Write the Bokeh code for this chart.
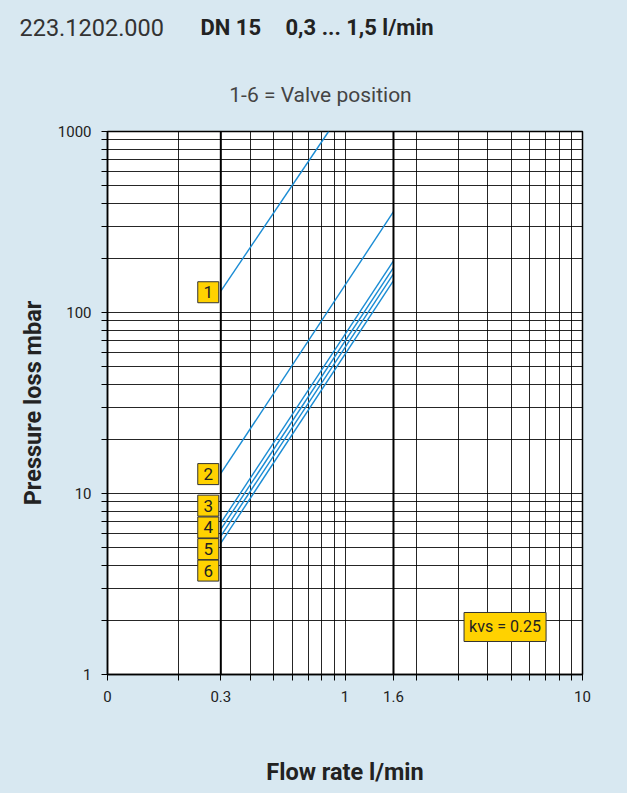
from bokeh.plotting import figure
from bokeh.layouts import column
from bokeh.models import FixedTicker, Span, Label, ColumnDataSource, Range1d
from bokeh.embed import file_html
from bokeh.resources import INLINE
from bokeh.core.properties import value

# ---------------- data ----------------
valve_positions = ["1", "2", "3", "4", "5", "6"]
flow_start = [0.3, 0.3, 0.3, 0.3, 0.3, 0.3]          # l/min
flow_end = [0.853, 1.6, 1.6, 1.6, 1.6, 1.6]          # l/min
loss_start = [131.4, 12.9, 6.88, 6.33, 5.82, 5.32]   # mbar
loss_end = [1000.0, 360.6, 192.7, 177.0, 163.3, 150.2]
badge_loss = [129.4, 12.8, 8.57, 6.49, 4.93, 3.75]   # badge heights (mbar)
badge_flow = 0.2656

x_ticks = [0.1, 0.3, 1, 1.6, 10]
x_tick_labels = ["0", "0.3", "1", "1.6", "10"]
x_minor = [0.2, 0.4, 0.5, 0.6, 0.7, 0.8, 0.9, 2, 3, 4, 5, 6, 7, 8, 9]
y_ticks = [1, 10, 100, 1000]
y_tick_labels = ["1", "10", "100", "1000"]
y_minor = [m * d for d in (1, 10, 100) for m in range(2, 10)]
kvs_text = "kvs = 0.25"
header_id = "223.1202.000"
header_dn = "DN 15"
header_flow = "0,3 ... 1,5 l/min"
subtitle = "1-6 = Valve position"
x_title = "Flow rate l/min"
y_title = "Pressure loss mbar"

# ---------------- style ----------------
BG = "#D8E8F1"
LINE = "#1A8CD4"
YELLOW = "#FFD200"
FONT = "Roboto"

W = 627
HEAD_H = 116
FW, FH = 475, 543
LEFT, TOP, RIGHT, BOTTOM = 107, 15, 45, 119


def no_align(fig):
    if "frame_align" in fig.properties():
        fig.frame_align = False


# ---------------- header strip ----------------
h = figure(width=W, height=HEAD_H, x_range=Range1d(0, W), y_range=Range1d(HEAD_H, 0),
           min_border=0, x_axis_location=None, y_axis_location=None,
           toolbar_location=None, output_backend="svg",
           background_fill_color=BG, border_fill_color=BG, outline_line_color=None)
h.grid.visible = False
no_align(h)
h.text(x=[19], y=[27], text=[header_id], text_align="left", text_baseline="middle",
       text_font=value(FONT), text_font_size="23.5px", text_color="#333333")
h.text(x=[200], y=[27], text=[header_dn], text_align="left", text_baseline="middle",
       text_font=value(FONT), text_font_style="bold", text_font_size="22px", text_color="#222222")
h.text(x=[285], y=[27], text=[header_flow], text_align="left", text_baseline="middle",
       text_font=value(FONT), text_font_style="bold", text_font_size="22px", text_color="#222222")
h.text(x=[320], y=[94], text=[subtitle], text_align="center", text_baseline="middle",
       text_font=value(FONT), text_font_size="21px", text_color="#444444")

# ---------------- main chart ----------------
p = figure(x_axis_type="log", y_axis_type="log",
           x_range=Range1d(0.1, 10), y_range=Range1d(1, 1000),
           frame_width=FW, frame_height=FH,
           min_border_left=LEFT, min_border_right=RIGHT,
           min_border_top=TOP, min_border_bottom=BOTTOM,
           output_backend="svg", toolbar_location=None,
           background_fill_color="white", border_fill_color=BG)
no_align(p)

p.outline_line_color = "black"
p.outline_line_width = 1.5

# grids
p.xgrid.ticker = FixedTicker(ticks=x_minor + [1])
p.ygrid.ticker = FixedTicker(ticks=y_minor + [10, 100])
for g in (p.xgrid, p.ygrid):
    g.grid_line_color = "black"
    g.grid_line_width = 1
    g.grid_line_alpha = 0.85

# axes
p.xaxis.ticker = FixedTicker(ticks=x_ticks, minor_ticks=x_minor)
p.yaxis.ticker = FixedTicker(ticks=y_ticks, minor_ticks=y_minor)
p.xaxis.major_label_overrides = {t: l for t, l in zip(x_ticks, x_tick_labels)}
p.yaxis.major_label_overrides = {t: l for t, l in zip(y_ticks, y_tick_labels)}
for ax in (p.xaxis, p.yaxis):
    ax.axis_line_color = "black"
    ax.axis_line_width = 1.5
    ax.major_tick_line_color = "black"
    ax.minor_tick_line_color = "black"
    ax.major_tick_in = 0
    ax.minor_tick_in = 0
    ax.major_tick_out = 6
    ax.minor_tick_out = 6
    ax.major_label_text_font = FONT
    ax.major_label_text_font_size = "15px"
    ax.major_label_text_color = "#222222"
    ax.axis_label_text_font = FONT
    ax.axis_label_text_font_style = "bold"
    ax.axis_label_text_font_size = "23.5px"
    ax.axis_label_text_color = "#222222"
p.xaxis.major_label_standoff = 10
p.yaxis.major_label_standoff = 10
p.xaxis.axis_label = x_title
p.yaxis.axis_label = y_title
p.xaxis.axis_label_standoff = 53
p.yaxis.axis_label_standoff = 8

# thick reference lines
for loc in (0.3, 1.6):
    p.add_layout(Span(location=loc, dimension="height", line_color="black", line_width=2))

# curves
src = ColumnDataSource(dict(
    xs=[[a, b] for a, b in zip(flow_start, flow_end)],
    ys=[[a, b] for a, b in zip(loss_start, loss_end)],
))
p.multi_line("xs", "ys", source=src, line_color=LINE, line_width=1.4)

# badges
bsrc = ColumnDataSource(dict(x=[badge_flow] * len(valve_positions), y=badge_loss, t=valve_positions))
p.rect("x", "y", width=21, height=21, width_units="screen", height_units="screen",
       source=bsrc, fill_color=YELLOW, line_color="#333333", line_width=1)
p.text("x", "y", text="t", source=bsrc, text_align="center", text_baseline="middle",
       text_font=value(FONT), text_font_size="17px", text_color="#222222")

# kvs badge (position inside the plot area, in data units)
p.add_layout(Label(x=4.72, y=1.83, text=kvs_text, text_align="center", text_baseline="middle",
                   text_font=FONT, text_font_size="16px", text_color="#222222",
                   background_fill_color=YELLOW, border_line_color="#333333", padding=5))

layout = column(h, p, spacing=0, styles={"background-color": BG, "gap": "0px"})
html = file_html(layout, INLINE)
html = html.replace("<body>", '<body style="background-color:%s;">' % BG, 1)
open("out.html", "w").write(html)
